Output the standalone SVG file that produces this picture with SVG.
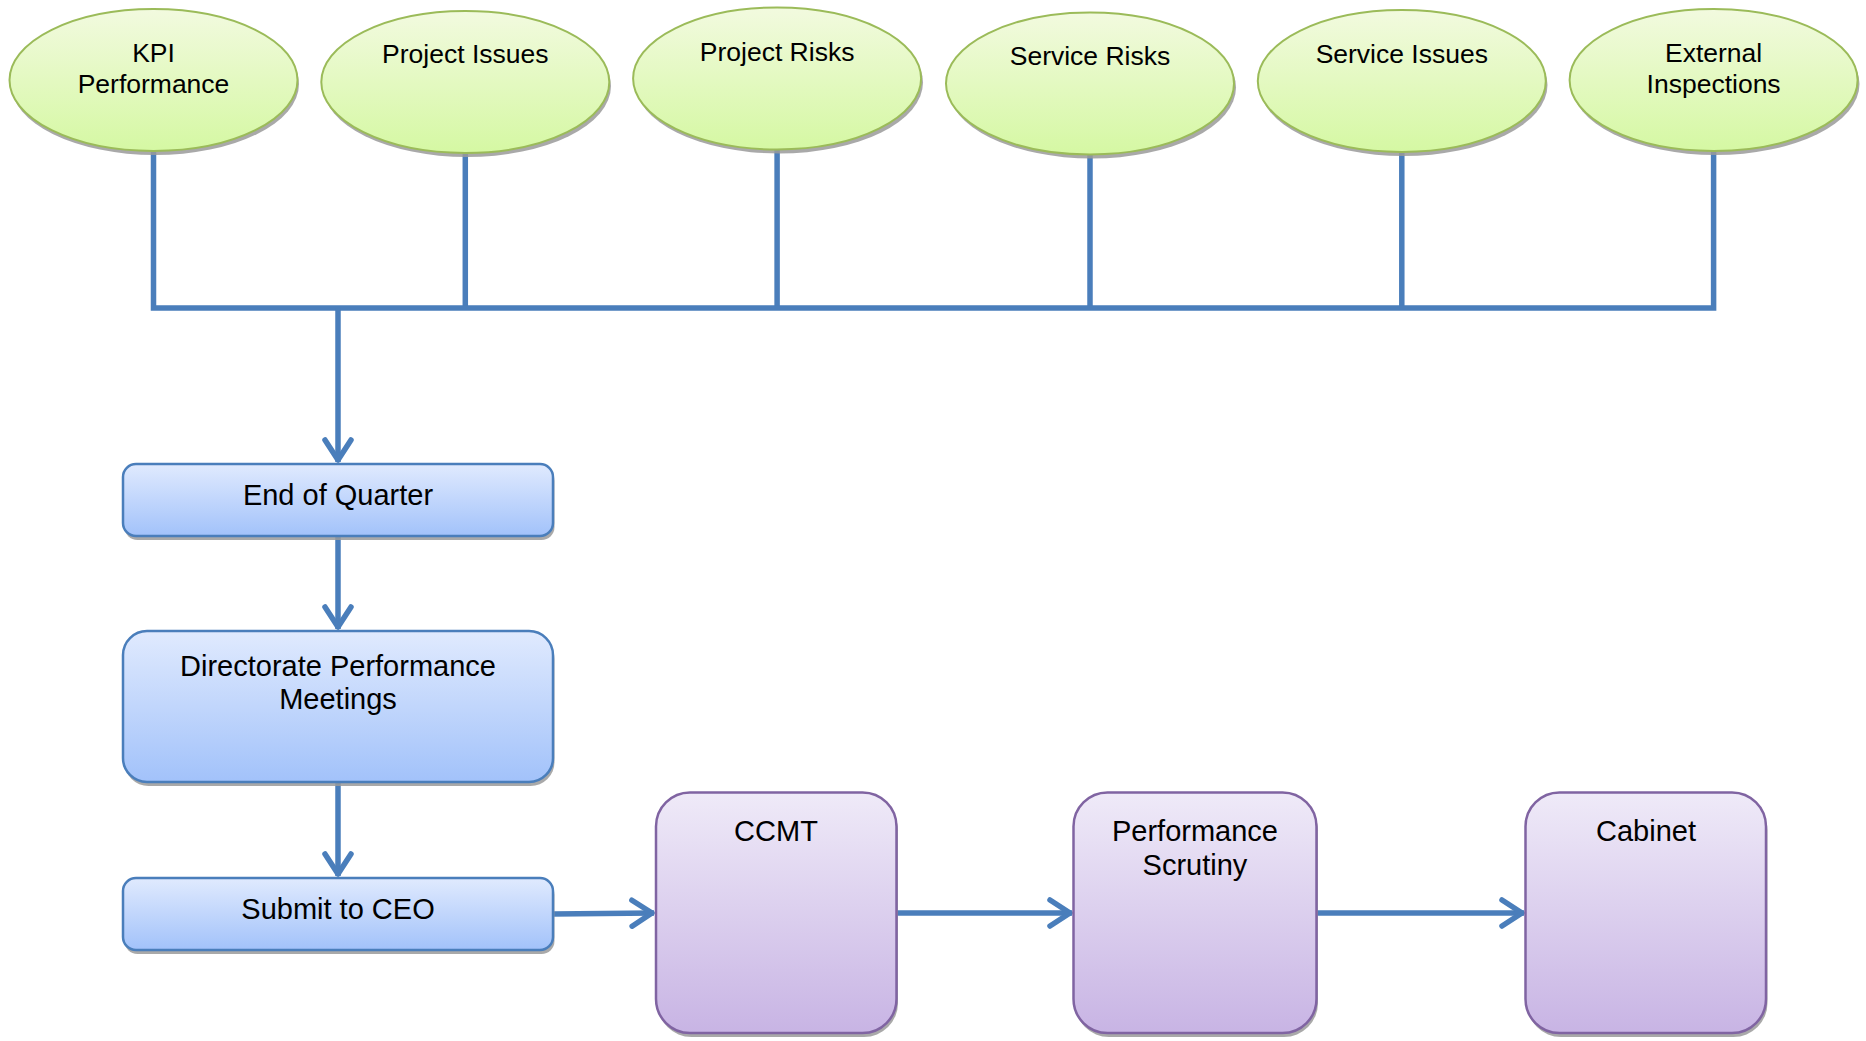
<svg xmlns="http://www.w3.org/2000/svg" width="1866" height="1041" viewBox="0 0 1866 1041">
<style>
text{font-family:"Liberation Sans",Arial,sans-serif;fill:#000;text-anchor:middle}
.et{font-size:26.5px}
.bt{font-size:29px}
.oval{fill:url(#gGreen);stroke:#9BBB59;stroke-width:2}
.blue{fill:url(#gBlue);stroke:#4A7EBB;stroke-width:2.5}
.purple{fill:url(#gPurple);stroke:#8064A2;stroke-width:2.5}
.sh{fill:#9a9a9a;opacity:0.85}
.conn{fill:none;stroke:#4A7EBB;stroke-width:5.5}
</style>
<defs>
<linearGradient id="gGreen" x1="0" y1="0" x2="0" y2="1">
<stop offset="0" stop-color="#F2FADF"/>
<stop offset="1" stop-color="#D5F8A3"/>
</linearGradient>
<linearGradient id="gBlue" x1="0" y1="0" x2="0" y2="1">
<stop offset="0" stop-color="#E0EAFE"/>
<stop offset="1" stop-color="#A2C2FA"/>
</linearGradient>
<linearGradient id="gPurple" x1="0" y1="0" x2="0" y2="1">
<stop offset="0" stop-color="#EFEAF8"/>
<stop offset="1" stop-color="#C8B4E4"/>
</linearGradient>
<marker id="arr" markerUnits="userSpaceOnUse" viewBox="-30 -20 40 40" markerWidth="40" markerHeight="40" refX="0" refY="0" orient="auto" overflow="visible">
<path d="M -22,-13 L -2,0 L -22,13" fill="none" stroke="#4A7EBB" stroke-width="5.5" stroke-linecap="round" stroke-linejoin="round"/>
</marker>
</defs>

<g id="connectors">
<path class="conn" d="M153.5,152 V308 H338"/>
<path class="conn" d="M465.3,154 V308"/>
<path class="conn" d="M777.1,150 V308"/>
<path class="conn" d="M1090,155 V308"/>
<path class="conn" d="M1401.8,153 V308"/>
<path class="conn" d="M1713.6,151 V308 H338"/>
<path class="conn" d="M338,308 V462" marker-end="url(#arr)"/>
<path class="conn" d="M338,536 V629" marker-end="url(#arr)"/>
<path class="conn" d="M338,782 V876" marker-end="url(#arr)"/>
<path class="conn" d="M553,914 L654,913" marker-end="url(#arr)"/>
<path class="conn" d="M897,913 H1072" marker-end="url(#arr)"/>
<path class="conn" d="M1317,913 H1524" marker-end="url(#arr)"/>
</g>

<g id="kpi">
<ellipse class="sh" cx="155" cy="84" rx="144" ry="71"/>
<ellipse class="oval" cx="153.5" cy="80" rx="144" ry="71"/>
<text class="et" x="153.5" y="61.5">KPI</text>
<text class="et" x="153.5" y="92.5">Performance</text>
</g>
<g id="project-issues">
<ellipse class="sh" cx="467" cy="86" rx="144" ry="71"/>
<ellipse class="oval" cx="465.3" cy="82" rx="144" ry="71"/>
<text class="et" x="465.3" y="63">Project Issues</text>
</g>
<g id="project-risks">
<ellipse class="sh" cx="779" cy="82.5" rx="144" ry="71"/>
<ellipse class="oval" cx="777.1" cy="78.5" rx="144" ry="71"/>
<text class="et" x="777.1" y="60.5">Project Risks</text>
</g>
<g id="service-risks">
<ellipse class="sh" cx="1092" cy="87.5" rx="144" ry="71"/>
<ellipse class="oval" cx="1090" cy="83.5" rx="144" ry="71"/>
<text class="et" x="1090" y="65">Service Risks</text>
</g>
<g id="service-issues">
<ellipse class="sh" cx="1403.5" cy="85" rx="144" ry="71"/>
<ellipse class="oval" cx="1401.8" cy="81" rx="144" ry="71"/>
<text class="et" x="1401.8" y="63">Service Issues</text>
</g>
<g id="external-inspections">
<ellipse class="sh" cx="1715.5" cy="84" rx="144" ry="71"/>
<ellipse class="oval" cx="1713.6" cy="80" rx="144" ry="71"/>
<text class="et" x="1713.6" y="61.5">External</text>
<text class="et" x="1713.6" y="92.5">Inspections</text>
</g>

<g id="end-of-quarter">
<rect class="sh" x="124.5" y="468" width="430" height="72" rx="13"/>
<rect class="blue" x="123" y="464" width="430" height="72" rx="13"/>
<text class="bt" x="338" y="504.5">End of Quarter</text>
</g>
<g id="directorate">
<rect class="sh" x="124.5" y="635" width="430" height="151" rx="24"/>
<rect class="blue" x="123" y="631" width="430" height="151" rx="24"/>
<text class="bt" x="338" y="675.5">Directorate Performance</text>
<text class="bt" x="338" y="709">Meetings</text>
</g>
<g id="submit-ceo">
<rect class="sh" x="124.5" y="882" width="430" height="72" rx="13"/>
<rect class="blue" x="123" y="878" width="430" height="72" rx="13"/>
<text class="bt" x="338" y="918.5">Submit to CEO</text>
</g>
<g id="ccmt">
<rect class="sh" x="657.5" y="796.5" width="240.5" height="240.5" rx="34"/>
<rect class="purple" x="656" y="792.5" width="240.5" height="240.5" rx="34"/>
<text class="bt" x="776" y="841">CCMT</text>
</g>
<g id="performance-scrutiny">
<rect class="sh" x="1075" y="796.5" width="243" height="240.5" rx="34"/>
<rect class="purple" x="1073.5" y="792.5" width="243" height="240.5" rx="34"/>
<text class="bt" x="1195" y="841">Performance</text>
<text class="bt" x="1195" y="874.5">Scrutiny</text>
</g>
<g id="cabinet">
<rect class="sh" x="1527" y="796.5" width="240.5" height="240.5" rx="34"/>
<rect class="purple" x="1525.5" y="792.5" width="240.5" height="240.5" rx="34"/>
<text class="bt" x="1646" y="841">Cabinet</text>
</g>
</svg>
